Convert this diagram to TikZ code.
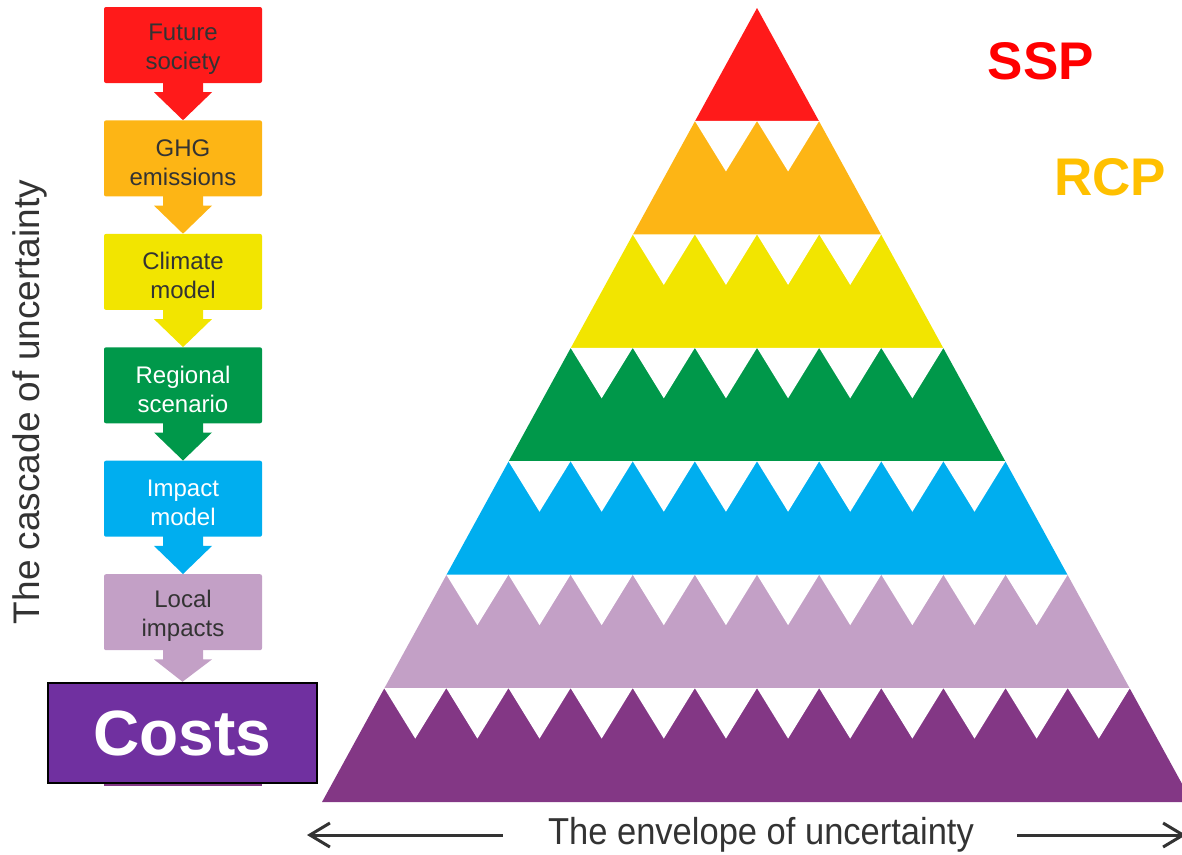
\documentclass[tikz,border=0pt]{standalone}
\usepackage{fontspec}
\setmainfont{Liberation Sans}
\newfontfamily\narrowfont[FakeStretch=0.92]{Liberation Sans}
\usetikzlibrary{arrows.meta}
\definecolor{ssp}{HTML}{FF1A1A}
\definecolor{rcp}{HTML}{FDB515}
\definecolor{clim}{HTML}{F2E500}
\definecolor{regio}{HTML}{00984A}
\definecolor{impact}{HTML}{00AEEF}
\definecolor{local}{HTML}{C3A0C6}
\definecolor{cost}{HTML}{833785}
\definecolor{costbox}{HTML}{7030A0}
\definecolor{sspred}{HTML}{FF0000}
\definecolor{rcpgold}{HTML}{FFC000}
\definecolor{ink}{HTML}{333333}
\tikzstyle{stage}=[rectangle,rounded corners=2pt,minimum width=158pt,minimum height=76pt,inner sep=0pt]
\tikzstyle{stagetext}=[inner sep=0pt,align=center,font=\fontsize{24}{29}\selectfont]
\tikzstyle{costsbox}=[rectangle,draw=black,line width=2.5pt,fill=costbox,minimum width=269pt,minimum height=100pt,text=white,font=\bfseries\fontsize{64}{64}\selectfont]
\tikzstyle{scen}=[font=\bfseries\fontsize{53}{53}\selectfont]
\tikzstyle{envarrow}=[draw=ink,line width=3pt,-{Straight Barb[length=20pt,width=24pt]}]

\begin{document}
\begin{tikzpicture}[x=1pt,y=-1pt]
    \useasboundingbox (0,0) rectangle (1182,854);
    \clip (0,0) rectangle (1182,854);
    % Bands of the pyramid, one per stage
    \foreach \col [count=\k from 0] in {ssp,rcp,clim,regio,impact,local,cost}{
        \pgfmathsetmacro\top{8+113.43*\k}
        \pgfmathsetmacro\bot{8+113.43*(\k+1)}
        \pgfmathsetmacro\wt{62.14*\k}
        \pgfmathsetmacro\wb{62.14*(\k+1)}
        \fill[\col] (757-\wt,\top) -- (757+\wt,\top) -- (757+\wb,\bot) -- (757-\wb,\bot) -- cycle;
    }
    % White teeth cut into the top of each band
    \foreach \k in {1,...,6}{
        \pgfmathsetmacro\top{8+113.43*\k}
        \pgfmathtruncatemacro\n{2*\k-1}
        \foreach \j in {0,...,\n}{
            \pgfmathsetmacro\xa{757-62.14*\k+62.14*\j}
            \fill[white] (\xa,\top-0.5) -- (\xa+62.14,\top-0.5) -- (\xa+31.07,\top+50) -- cycle;
        }
    }
    % Stages of the cascade
    \fill[cost] (104,690) rectangle (262,786);
    \foreach \pos/\name/\col/\txt/\tc in {{(183,45)/fut/ssp/{Future\\society}/ink},
        {(183,158.4)/ghg/rcp/{GHG\\emissions}/ink}, {(183,271.9)/clm/clim/{Climate\\model}/ink},
        {(183,385.3)/reg/regio/{Regional\\scenario}/white}, {(183,498.7)/imp/impact/{Impact\\model}/white},
        {(183,612.2)/loc/local/{Local\\impacts}/ink}}{
        \node[stage,fill=\col] (\name) at \pos {};
        \node[stagetext,text=\tc] (\name-txt) at ([yshift=-4pt]\name.center) {\txt};
    }
    \node[costsbox] (costs) at (182.5,733) {Costs};
    % Block arrows between stages
    \foreach \a/\b/\col in {fut/ghg/ssp, ghg/clm/rcp, clm/reg/clim, reg/imp/regio, imp/loc/impact, loc/costs/local}
        \fill[\col] ([xshift=-20pt,yshift=1pt]\a.south) -- ([xshift=-20pt,yshift=-9pt]\a.south)
            -- ([xshift=-29pt,yshift=-9pt]\a.south) -- (\b.north) -- ([xshift=29pt,yshift=-9pt]\a.south)
            -- ([xshift=20pt,yshift=-9pt]\a.south) -- ([xshift=20pt,yshift=1pt]\a.south) -- cycle;
    % Scenario labels
    \node[scen,text=sspred] (ssplab) at (1041,61) {SSP};
    \node[scen,text=rcpgold] (rcplab) at (1110,177) {RCP};
    % Axis texts
    \node[rotate=90,text=ink,font=\fontsize{37}{37}\selectfont] (cascade) at (30,402) {The cascade of uncertainty};
    \node[inner sep=0pt,text=ink,font=\narrowfont\fontsize{37.5}{37.5}\selectfont] (envelope) at (761,835) {The envelope of uncertainty};
    \coordinate (envL) at (307,835);
    \coordinate (envR) at (1186,835);
    \draw[envarrow] ([xshift=-45pt]envelope.west) -- (envL);
    \draw[envarrow] ([xshift=43pt]envelope.east) -- (envR);
\end{tikzpicture}
\end{document}
